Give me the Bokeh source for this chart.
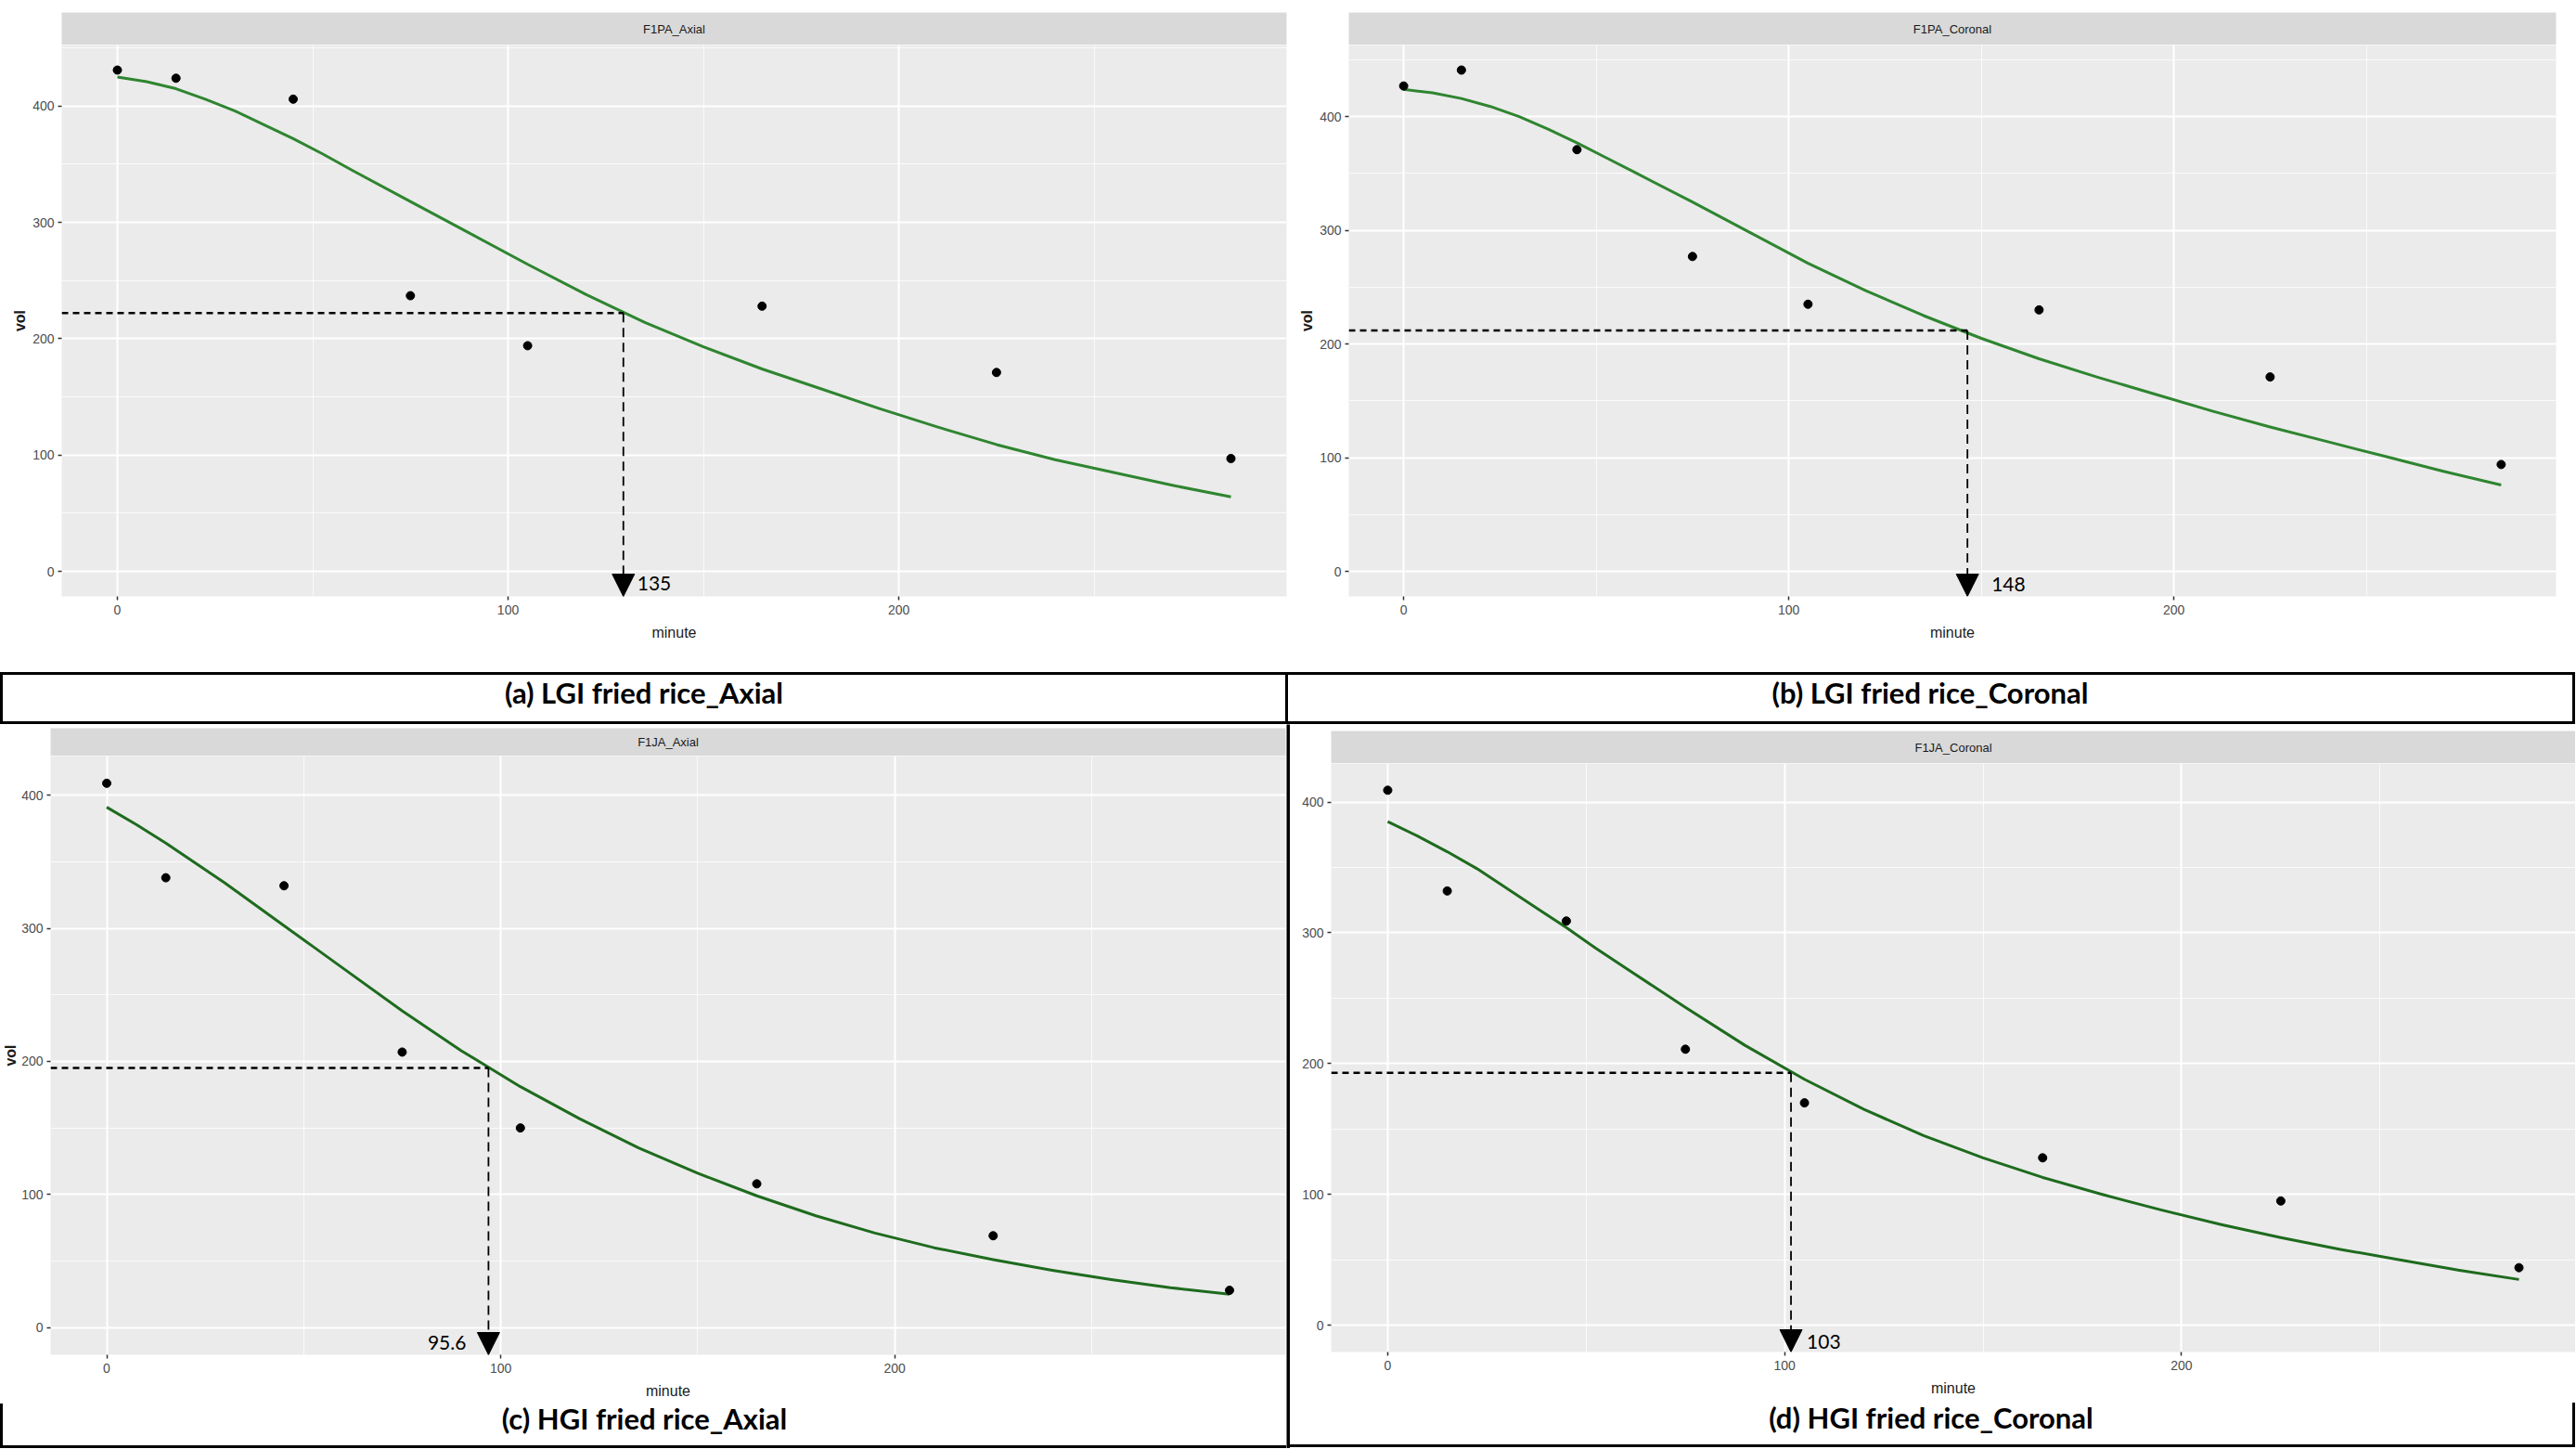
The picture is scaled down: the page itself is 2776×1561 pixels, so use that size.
from bokeh.plotting import figure
from bokeh.layouts import column, row
from bokeh.models import Range1d, FixedTicker, Label, Arrow, NormalHead, Div
from bokeh.embed import file_html
from bokeh.resources import INLINE

# ---------------- data ----------------
minutes = [0, 15, 45, 75, 105, 165, 225, 285]
vol_a = [431, 424, 406, 237, 194, 228, 171, 97]
vol_b = [427, 441, 371, 277, 235, 230, 171, 94]
vol_c = [409, 338, 332, 207, 150, 108, 69, 28]
vol_d = [409, 332, 309, 211, 170, 128, 95, 44]

fit_minutes = [0, 7.5, 15, 22.5, 30, 37.5, 45, 52.5, 60, 75, 90, 105, 120, 135, 150, 165,
               180, 195, 210, 225, 240, 255, 270, 285]
fit_a = [425, 421, 415, 406, 396, 384, 372, 359, 345, 318, 291, 264, 238, 214, 193, 174,
         157, 140, 124, 109, 96, 85, 74, 64]
fit_b = [424, 421, 416, 409, 400, 389, 377, 364, 351, 325, 298, 271, 247, 225, 205, 187,
         171, 156, 141, 127, 114, 101, 88, 76]
fit_c = [391, 378, 364, 349, 334, 318, 302, 286, 270, 238, 208, 181, 157, 135, 116, 99,
         84, 71, 60, 51, 43, 36, 30, 25]
fit_d = [385, 374, 362, 349, 334, 319, 304, 288, 273, 243, 214, 188, 165, 145, 128, 113,
         100, 88, 77, 67, 58, 50, 42, 35]

# where the dashed guides meet the fitted curve (minute, vol), and the printed value
half_a = (129.5, 222)
half_b = (146.4, 212)
half_c = (96.9, 195)
half_d = (101.6, 193)
half_labels = ["135", "148", "95.6", "103"]

strip_titles = ["F1PA_Axial", "F1PA_Coronal", "F1JA_Axial", "F1JA_Coronal"]
captions = ["(a) LGI fried rice_Axial", "(b) LGI fried rice_Coronal",
            "(c) HGI fried rice_Axial", "(d) HGI fried rice_Coronal"]
x_ticks = [0, 100, 200]
x_minor = [50, 150, 250]
y_ticks = [0, 100, 200, 300, 400]
y_minor = [50, 150, 250, 350, 450]

GG_FONT = "Liberation Sans"
CAP_FONT = "Lato"


def padded(lo, hi):
    pad = 0.05 * (hi - lo)
    return lo - pad, hi + pad


def make_strip(title, width, left, right, top, frame_h):
    s = figure(width=width, height=top + frame_h, x_range=Range1d(0, 1), y_range=Range1d(0, 1),
               x_axis_location=None, y_axis_location=None, toolbar_location=None,
               output_backend="svg", title=None,
               min_border_left=left, min_border_right=right, min_border_top=top, min_border_bottom=0)
    s.grid.visible = False
    s.background_fill_color = "#D9D9D9"
    s.border_fill_color = "white"
    s.outline_line_color = None
    s.add_layout(Label(x=0.5, y=0.5, text=title, text_align="center", text_baseline="middle",
                       text_font=GG_FONT, text_font_size="13px", text_color="#1A1A1A"))
    return s


def make_main(xs, ys, fx, fy, half, hlabel, color, width, frame_h, left, right, bottom,
              ylabel, ylabel_standoff, label_side, label_dx, label_dy):
    xlo, xhi = padded(min(xs), max(xs))
    ylo, yhi = padded(0, max(ys))
    p = figure(width=width, height=frame_h + bottom, x_range=Range1d(xlo, xhi), y_range=Range1d(ylo, yhi),
               toolbar_location=None, output_backend="svg", title=None,
               min_border_left=left, min_border_right=right, min_border_top=0, min_border_bottom=bottom)
    p.background_fill_color = "#EBEBEB"
    p.border_fill_color = "white"
    p.outline_line_color = None
    p.xaxis.ticker = FixedTicker(ticks=x_ticks, minor_ticks=x_minor)
    p.yaxis.ticker = FixedTicker(ticks=y_ticks, minor_ticks=y_minor)
    p.grid.grid_line_color = "white"
    p.grid.grid_line_width = 2
    p.grid.minor_grid_line_color = "white"
    p.grid.minor_grid_line_width = 1
    p.grid.minor_grid_line_alpha = 0.75
    for ax in p.axis:
        ax.axis_line_color = None
        ax.major_tick_line_color = "#333333"
        ax.major_tick_line_width = 1.5
        ax.major_tick_in = 0
        ax.major_tick_out = 4
        ax.minor_tick_line_color = None
        ax.major_label_text_font = GG_FONT
        ax.major_label_text_font_size = "14px"
        ax.major_label_text_color = "#4D4D4D"
        ax.major_label_standoff = 4
        ax.axis_label_text_font = GG_FONT
        ax.axis_label_text_font_size = "16px"
        ax.axis_label_text_color = "#1A1A1A"
    p.xaxis.axis_label = "minute"
    p.xaxis.axis_label_text_font_style = "normal"
    p.xaxis.axis_label_standoff = 8
    p.xaxis.major_label_standoff = 5
    if ylabel:
        p.yaxis.axis_label = ylabel
        p.yaxis.axis_label_text_font_style = "bold"
        p.yaxis.axis_label_standoff = ylabel_standoff

    # fitted curve and observations
    p.line(fx, fy, line_color=color, line_width=3, line_join="round")
    p.scatter(xs, ys, size=9, color="black")

    # dashed guides with arrow down to the time axis
    hx, hy = half
    p.segment(x0=[xlo], y0=[hy], x1=[hx], y1=[hy], line_color="black", line_width=2.5, line_dash="7 5")
    p.add_layout(Arrow(end=NormalHead(size=24, fill_color="black", line_color="black"),
                       x_start=hx, y_start=hy, x_end=hx, y_end=ylo,
                       line_color="black", line_width=1.8, line_dash="10 6"))
    p.add_layout(Label(x=hx, y=ylo, x_offset=label_dx, y_offset=label_dy, text=hlabel,
                       text_align=label_side, text_baseline="middle",
                       text_font=CAP_FONT, text_font_size="21px", text_color="black"))
    return p


def make_caption(text, width, height, line_h, borders):
    st = {
        "box-sizing": "border-box",
        "font-family": CAP_FONT,
        "font-weight": "bold",
        "font-size": "31px",
        "color": "black",
        "text-align": "center",
        "line-height": f"{line_h}px",
        "background-color": "white",
        "overflow": "visible",
    }
    for side in borders:
        st[f"border-{side}"] = "3px solid black"
    return Div(text=text, width=width, height=height, margin=0, styles=st)


GREEN_TOP = "#2F8530"
GREEN_BOT = "#1E6B1E"

# ---- top row (0..780) ----
strip_a = make_strip(strip_titles[0], 1388, 66, 2, 13, 35)
main_a = make_main(minutes, vol_a, fit_minutes, fit_a, half_a, half_labels[0], GREEN_TOP,
                   1388, 594, 66, 2, 82, "vol", 2, "left", 15, 14)
cap_a = make_caption(captions[0], 1388, 56, 38, ["top", "left", "right", "bottom"])

strip_b = make_strip(strip_titles[1], 1387, 65, 21, 13, 35)
main_b = make_main(minutes, vol_b, fit_minutes, fit_b, half_b, half_labels[1], GREEN_TOP,
                   1387, 594, 65, 21, 82, "vol", 2, "left", 26, 13)
cap_b = make_caption(captions[1], 1387, 56, 38, ["top", "right", "bottom"])

# ---- bottom row (780..1560) ----
strip_c = make_strip(strip_titles[2], 1386, 51, 1, 4, 30)
main_c = make_main(minutes, vol_c, fit_minutes, fit_c, half_c, half_labels[2], GREEN_BOT,
                   1386, 645, 51, 1, 53, "vol", 0, "right", -24, 13)
cap_c = make_caption(captions[2], 1386, 48, 32, ["left", "bottom"])

strip_d = make_strip(strip_titles[3], 1385, 44, 0, 7, 35)
main_d = make_main(minutes, vol_d, fit_minutes, fit_d, half_d, half_labels[3], GREEN_BOT,
                   1385, 634, 44, 0, 55, None, 0, "left", 17, 11)
cap_d = make_caption(captions[3], 1385, 48, 32, ["right", "bottom"])

divider = figure(width=4, height=34 + 645 + 53 + 48, x_axis_location=None, y_axis_location=None,
                 toolbar_location=None, output_backend="svg", title=None, min_border=0)
divider.grid.visible = False
divider.background_fill_color = "black"
divider.border_fill_color = "black"
divider.outline_line_color = None

top = row(column(strip_a, main_a, cap_a), column(strip_b, main_b, cap_b))
bottom = row(column(strip_c, main_c, cap_c), divider, column(strip_d, main_d, cap_d))
page = column(top, bottom)

open("out.html", "w").write(file_html(page, INLINE, title="Volume vs minute"))
